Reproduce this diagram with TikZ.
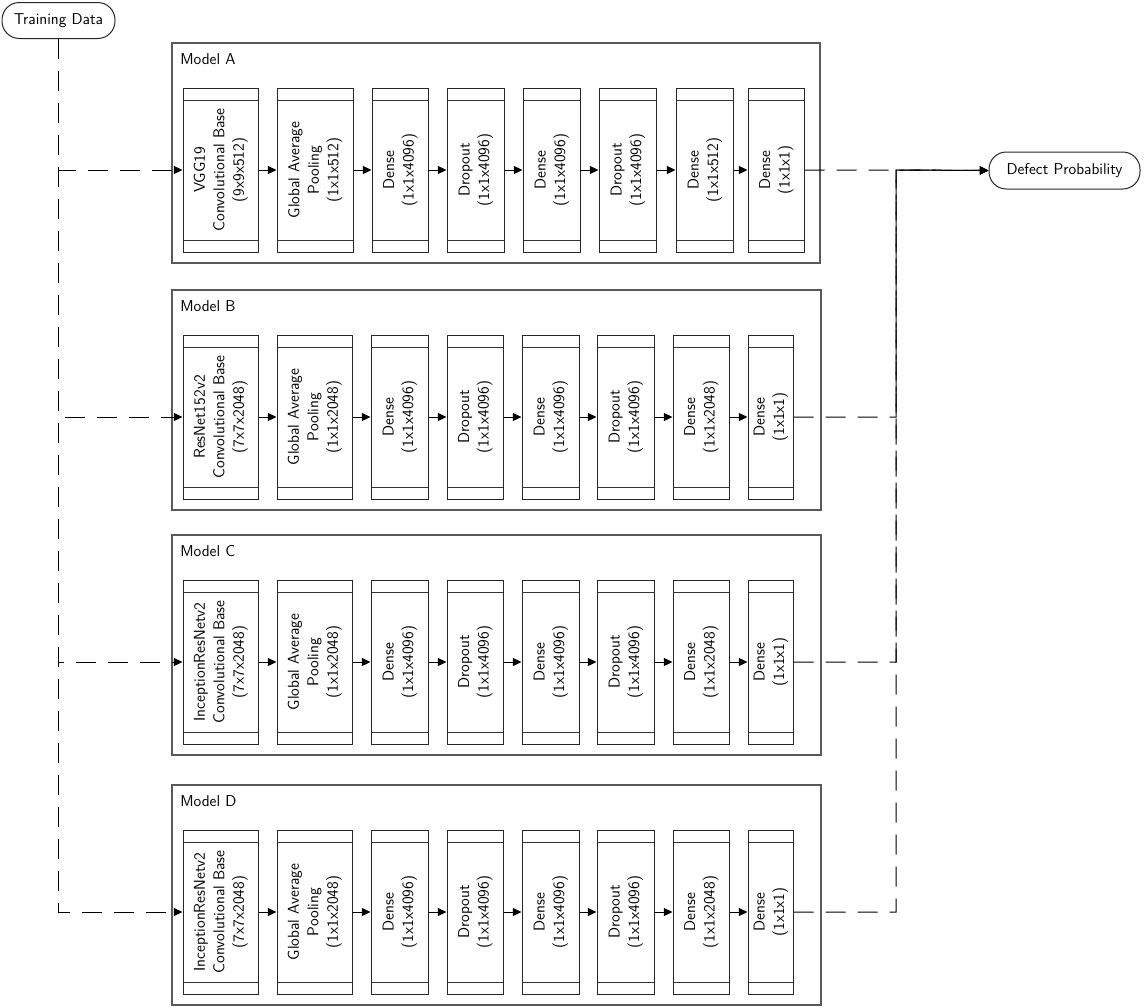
\documentclass[tikz,border=0pt]{standalone}
\usepackage{graphicx}
\usetikzlibrary{arrows.meta}
\begin{document}
\begin{tikzpicture}[x=0.75pt,y=-0.75pt,
  font=\sffamily\fontsize{11.8}{14.6}\selectfont,
  modelframe/.style={draw=black!65, line width=0.8pt, inner sep=0pt},
  layer/.style={draw=black!85, line width=0.75pt, inner sep=0pt,
    minimum height=123pt,
    path picture={
      \draw[black!80, line width=0.75pt]
        ([yshift=-9pt]path picture bounding box.north west) --
        ([yshift=-9pt]path picture bounding box.north east)
        ([yshift=9pt]path picture bounding box.south west) --
        ([yshift=9pt]path picture bounding box.south east);}},
  terminal/.style={draw=black!85, rectangle, rounded corners=13pt,
    line width=0.75pt, inner sep=0pt},
  flow/.style={line width=0.75pt, -{Triangle[length=6.5pt,width=6pt]}},
  feed/.style={flow, dash pattern=on 15pt off 9pt},
]
\useasboundingbox (0,0) rectangle (1145,1007);

% input and output terminals
\node[terminal, minimum width=84.75pt, minimum height=27pt] (td) at (58.5,20.5) {Training Data};
\node[terminal, minimum width=113.25pt, minimum height=27.75pt] (dp) at (1064.5,170.5) {Defect Probability};
\coordinate (merge) at (896,170);

% model frames and their titles
\node[modelframe, minimum width=486pt, minimum height=165pt] (frameA) at (496,153) {};
\node[modelframe, minimum width=486.75pt, minimum height=165pt] (frameB) at (496.5,400) {};
\node[modelframe, minimum width=486.75pt, minimum height=165pt] (frameC) at (496.5,645) {};
\node[modelframe, minimum width=486.75pt, minimum height=165pt] (frameD) at (496.5,895) {};
\node[anchor=west, inner sep=0pt] (titleA) at (180,59) {Model A};
\node[anchor=west, inner sep=0pt] (titleB) at (180,306) {Model B};
\node[anchor=west, inner sep=0pt] (titleC) at (180,551) {Model C};
\node[anchor=west, inner sep=0pt] (titleD) at (180,801) {Model D};

% layers: index / left edge / right edge / caption
\foreach \i/\xl/\xr/\txt in {
  1/183/258/{VGG19\\Convolutional Base\\(9x9x512)},
  2/277/353/{Global Average\\Pooling\\(1x1x512)},
  3/372/428/{Dense\\(1x1x4096)},
  4/447/504/{Dropout\\(1x1x4096)},
  5/523/580/{Dense\\(1x1x4096)},
  6/599/656/{Dropout\\(1x1x4096)},
  7/676/733/{Dense\\(1x1x512)},
  8/748/804/{Dense\\(1x1x1)}}
  \node[layer, minimum width={(\xr-\xl)*0.75pt}] (A\i) at ({(\xl+\xr)/2},170)
    {\rotatebox{90}{\begin{tabular}{@{}c@{}}\txt\end{tabular}}};

\foreach \m/\y/\base in {B/417/ResNet152v2, C/662/InceptionResNetv2, D/912/InceptionResNetv2}
  \foreach \i/\xl/\xr/\txt in {
    1/183/258/{\base\\Convolutional Base\\(7x7x2048)},
    2/277/352/{Global Average\\Pooling\\(1x1x2048)},
    3/371/428/{Dense\\(1x1x4096)},
    4/447/503/{Dropout\\(1x1x4096)},
    5/522/579/{Dense\\(1x1x4096)},
    6/597/654/{Dropout\\(1x1x4096)},
    7/673/729/{Dense\\(1x1x2048)},
    8/748/793/{Dense\\(1x1x1)}}
    \node[layer, minimum width={(\xr-\xl)*0.75pt}] (\m\i) at ({(\xl+\xr)/2},\y)
      {\rotatebox{90}{\begin{tabular}{@{}c@{}}\txt\end{tabular}}};

% connectors
\foreach \m in {A,B,C,D} {
  \draw[feed] (td.south) |- (\m1.west);
  \foreach \i [evaluate=\i as \j using int(\i+1)] in {1,...,7}
    \draw[flow] (\m\i) -- (\m\j);
  \draw[feed] (\m8.east) -| (merge) -- (dp.west);
}
\end{tikzpicture}
\end{document}
